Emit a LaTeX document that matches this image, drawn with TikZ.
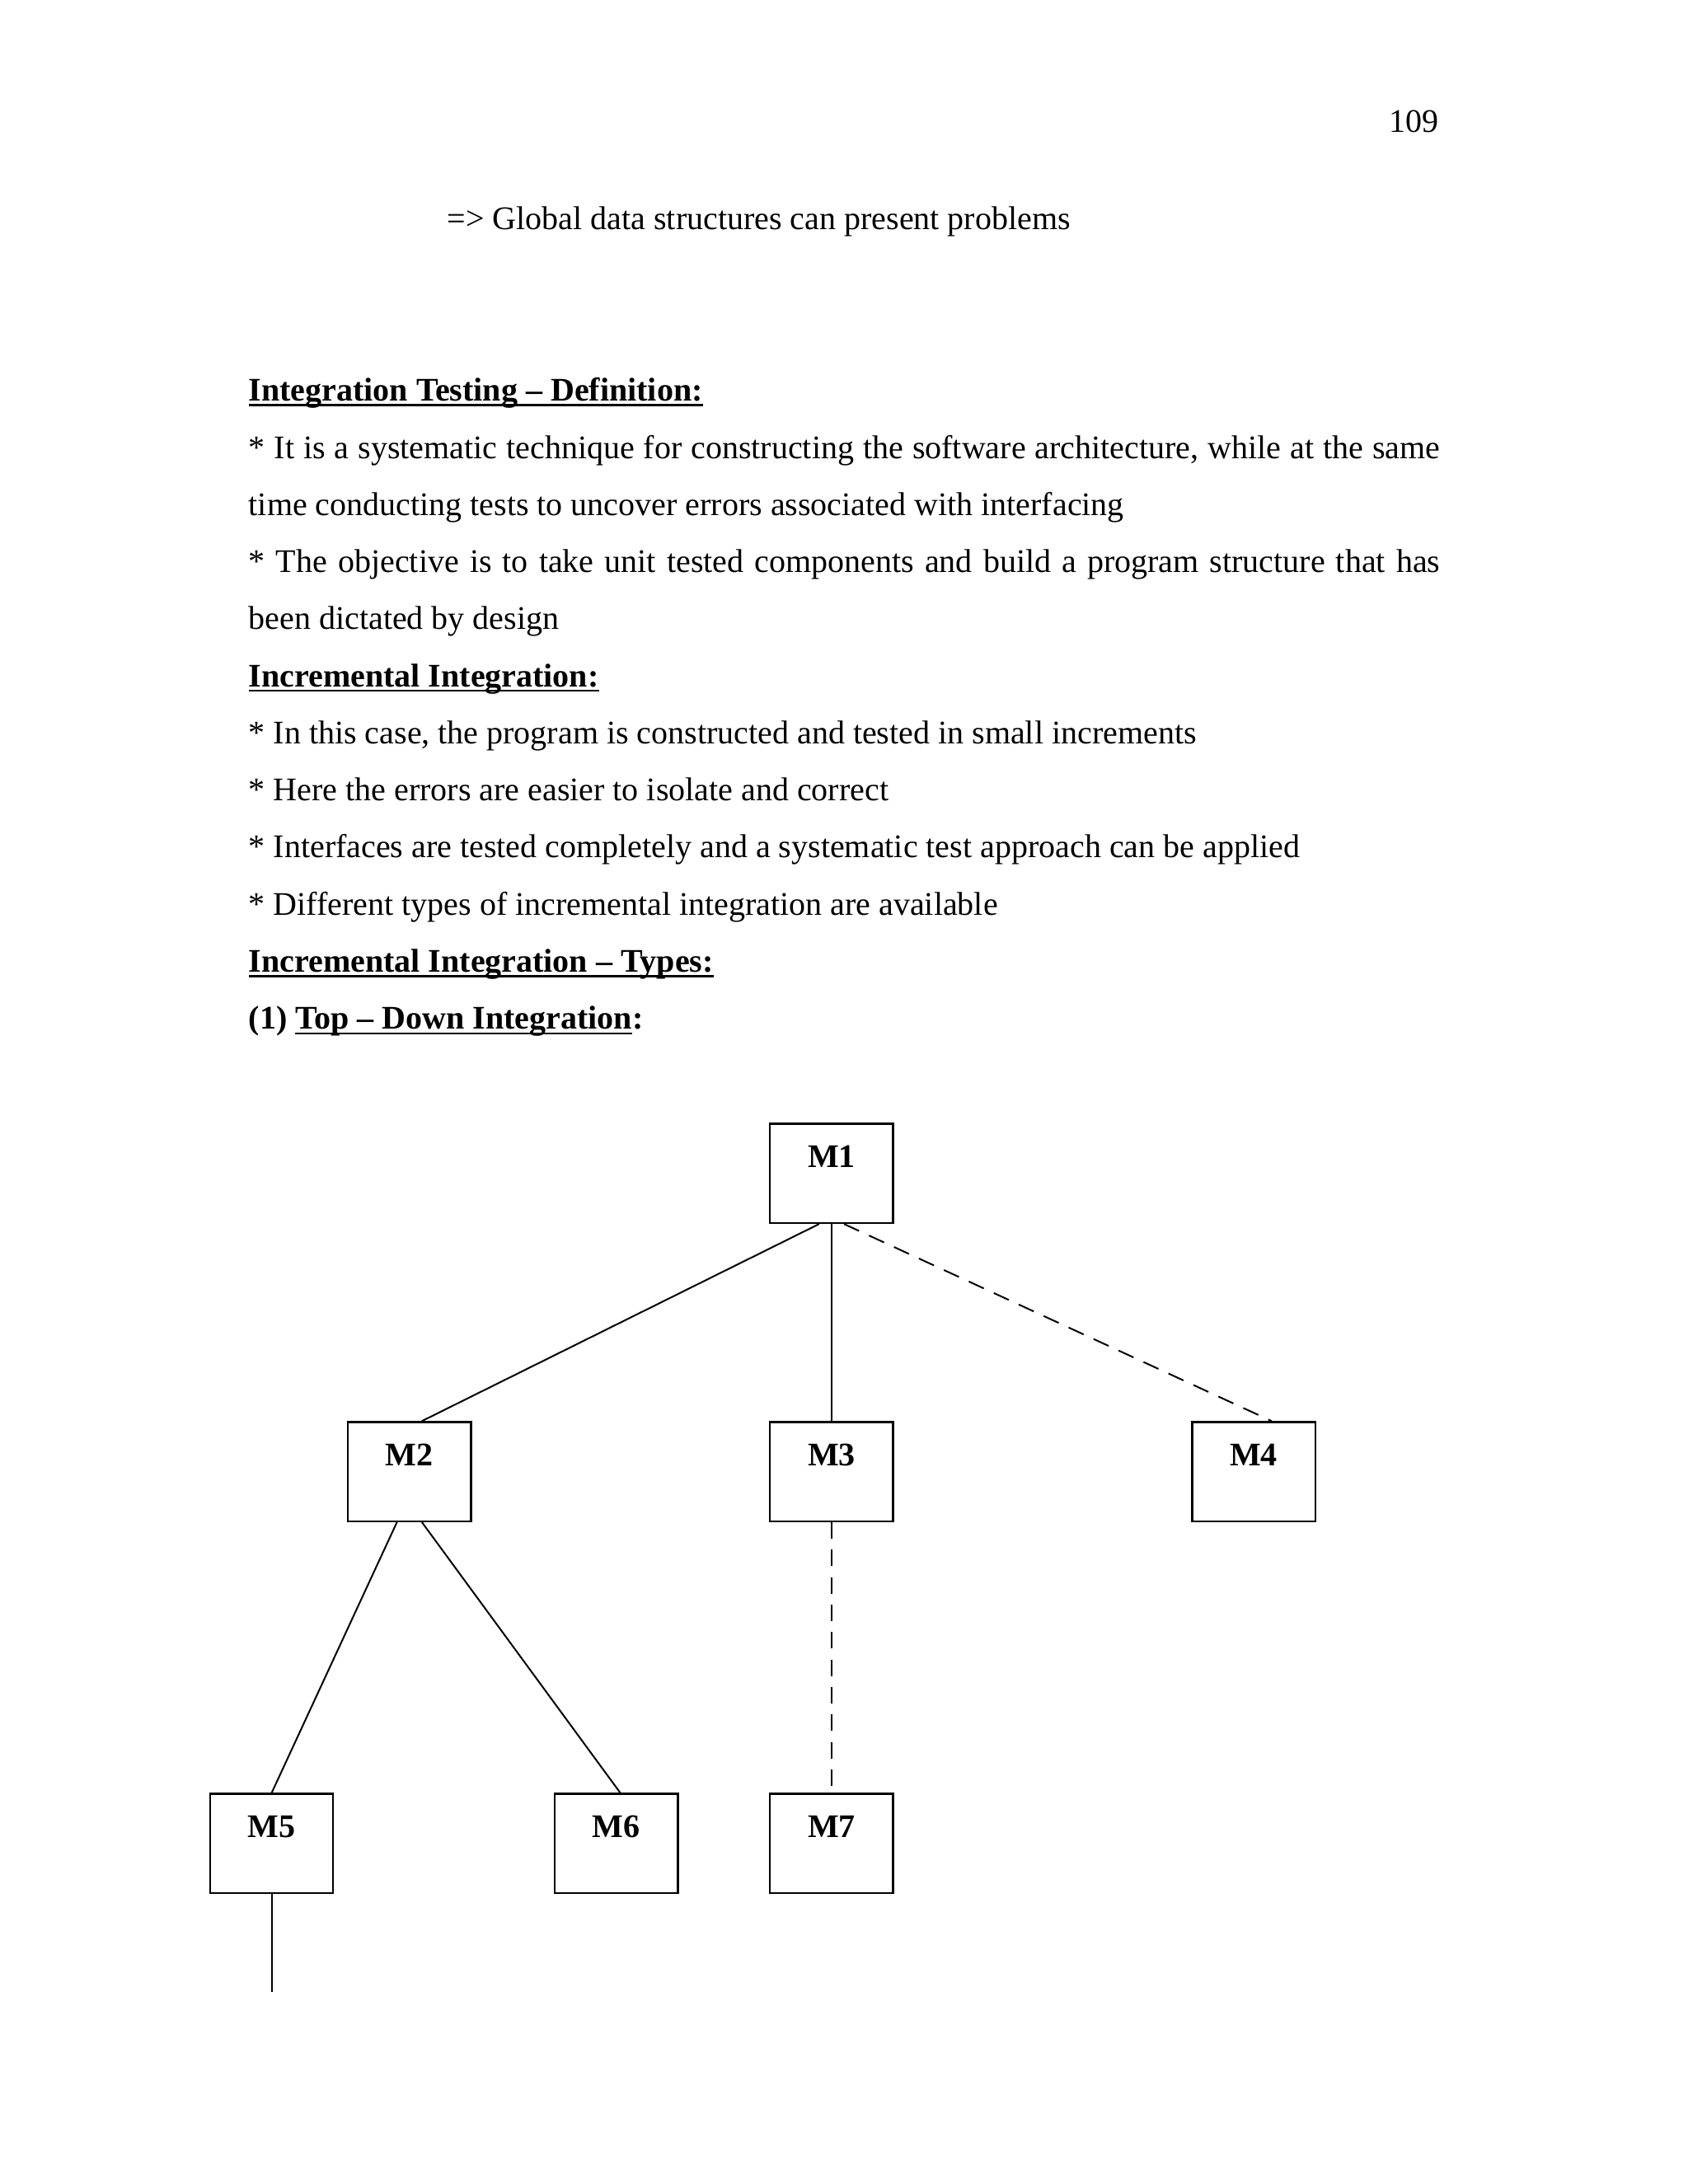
\documentclass[tikz,border=0pt]{standalone}
\usepackage{fontspec}
\setmainfont{Liberation Serif}

% underline close to the baseline, as the word processor draws it
\newcommand\hdul[1]{\setbox0\hbox{#1}\rlap{\rule[-1.8pt]{\wd0}{0.7pt}}\box0}

\begin{document}
\begin{tikzpicture}[x=1in,y=1in,
    every node/.style={font=\fontsize{12}{14}\selectfont},
    txt/.style={anchor=base west,inner sep=0},
    modbox/.style={draw,line width=0.7pt,inner sep=0,text width=0.62in,align=center,
      text height=0.22in,text depth=0.28in,font=\fontsize{12}{14}\selectfont\bfseries},
    link/.style={line width=0.6pt},
    stub/.style={link,dash pattern=on 6pt off 4pt}]

  % page
  \fill[white] (0,0) rectangle (8.5,-11);
  \useasboundingbox (0,0) rectangle (8.5,-11);

  \node[anchor=base east,inner sep=0] (pgno) at (7.25,-0.666) {109};
  \node[txt] (glob) at (2.25,-1.158) {=> Global data structures can present problems};

  % text lines
  \node[txt] (hdef) at (1.25,-2.020) {\bfseries\hdul{Integration Testing – Definition:}};
  \node[txt] (def1) at (1.25,-2.308) {\makebox[6in][s]{* It is a systematic technique for constructing the software architecture, while at the same}};
  \node[txt] (def2) at (1.25,-2.596) {time conducting tests to uncover errors associated with interfacing};
  \node[txt] (def3) at (1.25,-2.883) {\makebox[6in][s]{* The objective is to take unit tested components and build a program structure that has}};
  \node[txt] (def4) at (1.25,-3.171) {been dictated by design};
  \node[txt] (hinc) at (1.25,-3.459) {\bfseries\hdul{Incremental Integration:}};
  \node[txt] (inc1) at (1.25,-3.746) {* In this case, the program is constructed and tested in small increments};
  \node[txt] (inc2) at (1.25,-4.034) {* Here the errors are easier to isolate and correct};
  \node[txt] (inc3) at (1.25,-4.321) {* Interfaces are tested completely and a systematic test approach can be applied};
  \node[txt] (inc4) at (1.25,-4.609) {* Different types of incremental integration are available};
  \node[txt] (htyp) at (1.25,-4.897) {\bfseries\hdul{Incremental Integration – Types:}};
  \node[txt] (htop) at (1.25,-5.184) {\bfseries (1) \hdul{Top – Down Integration}:};

  % modules
  \node[modbox] (M1) at (4.188,-5.910) {M1};
  \node[modbox] (M2) at (2.062,-7.412) {M2};
  \node[modbox] (M3) at (4.188,-7.412) {M3};
  \node[modbox] (M4) at (6.314,-7.412) {M4};
  \node[modbox] (M5) at (1.368,-9.285) {M5};
  \node[modbox] (M6) at (3.104,-9.285) {M6};
  \node[modbox] (M7) at (4.188,-9.285) {M7};
  \coordinate (M5end) at (1.368,-10.032);

  % links, dashed where a stub stands in
  \draw[link] ([xshift=-0.063in]M1.south) -- ([xshift=0.063in]M2.north);
  \draw[link] (M1.south) -- (M3.north);
  \draw[stub] ([xshift=0.063in]M1.south) -- ([xshift=0.09in]M4.north);
  \draw[link] ([xshift=-0.063in]M2.south) -- (M5.north);
  \draw[link] ([xshift=0.063in]M2.south) -- ([xshift=0.02in]M6.north);
  \draw[stub] (M3.south) -- (M7.north);
  \draw[link] (M5.south) -- (M5end);

\end{tikzpicture}
\end{document}
